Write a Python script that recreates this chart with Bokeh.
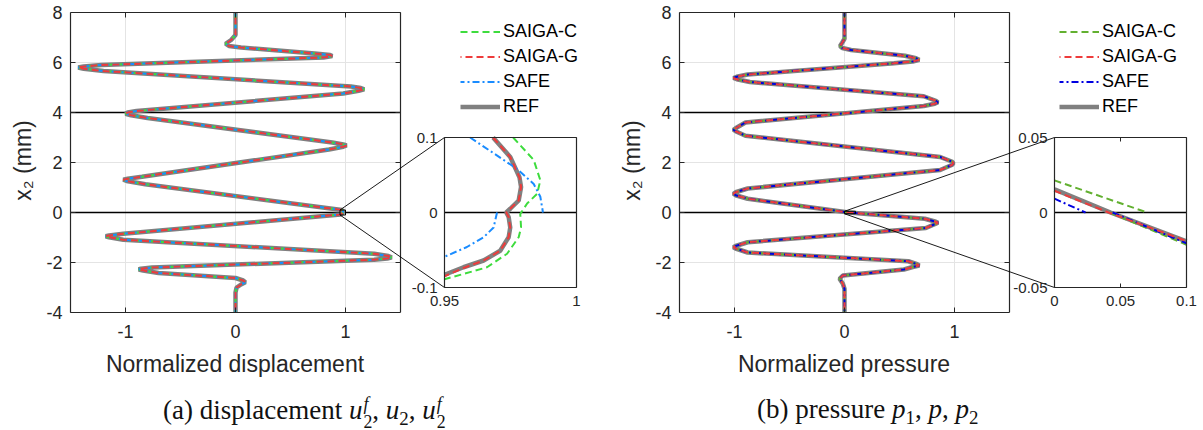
from bokeh.plotting import figure
from bokeh.models import Range1d, FixedTicker, Legend, LegendItem, Div
from bokeh.layouts import row, column
from bokeh.embed import file_html
from bokeh.resources import INLINE
from bokeh.core.properties import value

# ---------------- data ----------------
XLIM = (-1.5, 1.5)
YLIM = (-4.0, 8.0)
XTICKS = [-1, 0, 1]
YTICKS = [-4, -2, 0, 2, 4, 6, 8]
INTERFACES = [0, 4]
XLABELS = ["Normalized displacement", "Normalized pressure"]

# (a) normalized displacement vs depth x2 (mm); the four methods coincide at this scale
disp_x2 = [8.00, 7.10, 6.90, 6.75, 6.66, 6.60, 6.36, 6.30, 6.26, 6.20, 5.90, 5.84, 5.80, 5.75, 5.66,
           5.04, 4.98, 4.93, 4.87, 4.76, 4.06, 4.00, 3.95, 3.89, 3.78, 2.80, 2.72, 2.68, 2.63, 2.52,
           1.43, 1.35, 1.31, 1.26, 1.13, 0.10, 0.035, 0.00, -0.02, -0.08, -0.85, -0.92, -0.95, -0.99,
           -1.09, -1.65, -1.74, -1.79, -1.84, -1.89, -2.20, -2.25, -2.28, -2.32, -2.42, -2.62, -2.72,
           -2.79, -2.88, -3.00, -3.20, -4.00]
disp_u = [0.00, 0.00, -0.04, -0.09, -0.06, 0.05, 0.72, 0.86, 0.88, 0.80, -1.22, -1.38, -1.43, -1.38, -1.20,
          1.05, 1.14, 1.17, 1.12, 0.98, -0.90, -0.98, -1.00, -0.95, -0.80, 0.88, 0.98, 1.01, 0.98, 0.85,
          -0.85, -0.98, -1.02, -0.99, -0.82, 0.968, 0.979, 0.973, 0.975, 0.955, -1.02, -1.15, -1.18, -1.15,
          -1.02, 1.26, 1.39, 1.42, 1.38, 1.26, -0.76, -0.86, -0.88, -0.84, -0.70, 0.00, 0.07,
          0.09, 0.05, 0.01, 0.00, 0.00]

# (a) inset: u in [0.95, 1], x2 in [-0.1, 0.1]
ia_xlim = (0.95, 1.0)
ia_ylim = (-0.1, 0.1)
ia_xticks = [0.95, 1.0]
ia_yticks = [-0.1, 0.0, 0.1]
ia_ref_u = [0.9684, 0.9749, 0.9784, 0.9790, 0.9781, 0.9749, 0.9734, 0.9743, 0.9749, 0.9743, 0.9711, 0.9648, 0.9572, 0.9500]
ia_ref_x2 = [0.100, 0.074, 0.047, 0.034, 0.016, 0.005, 0.000, -0.006, -0.020, -0.033, -0.051, -0.064, -0.073, -0.083]
ia_g_u = [0.9684, 0.9749, 0.9784, 0.9790, 0.9781, 0.9749, 0.9734, 0.9743, 0.9749, 0.9743, 0.9711, 0.9648, 0.9572, 0.9500]
ia_g_x2 = [0.100, 0.074, 0.047, 0.034, 0.016, 0.005, 0.000, -0.006, -0.020, -0.033, -0.051, -0.064, -0.074, -0.085]
ia_c_u = [0.9760, 0.9838, 0.9863, 0.9851, 0.9813, 0.9787, 0.9790, 0.9781, 0.9737, 0.9661, 0.9572, 0.9500]
ia_c_x2 = [0.100, 0.070, 0.043, 0.025, 0.012, -0.002, -0.020, -0.033, -0.055, -0.073, -0.082, -0.089]
ia_safe_up_u = [0.9597, 0.9686, 0.9775, 0.9838, 0.9863, 0.9873]
ia_safe_up_x2 = [0.100, 0.079, 0.058, 0.038, 0.021, 0.000]
ia_safe_lo_u = [0.9699, 0.9686, 0.9648, 0.9585, 0.9500]
ia_safe_lo_x2 = [0.000, -0.020, -0.033, -0.046, -0.059]

# (b) normalized pressure vs depth x2 (mm)
pres_x2 = [8.00, 6.95, 6.80, 6.66, 6.58, 6.50, 6.27, 6.17, 6.11, 6.04, 5.97, 5.52, 5.43, 5.38, 5.33, 5.22,
           4.65, 4.47, 4.41, 4.35, 4.26, 3.60, 3.37, 3.31, 3.25, 3.07, 2.22, 2.03, 1.97, 1.91, 1.70,
           0.96, 0.81, 0.75, 0.69, 0.55, 0.00, -0.25, -0.37, -0.41, -0.45, -0.62, -1.19, -1.34,
           -1.39, -1.44, -1.60, -1.95, -2.07, -2.12, -2.18, -2.28, -2.52, -2.65, -2.85, -3.05, -4.00]
pres_p = [0.00, 0.00, -0.02, -0.04, -0.02, 0.06, 0.55, 0.65, 0.68, 0.62, 0.45, -0.88, -0.98, -1.01, -0.98, -0.86,
          0.72, 0.83, 0.85, 0.82, 0.72, -0.90, -0.99, -1.01, -0.99, -0.90, 0.87, 0.98, 0.99, 0.98, 0.87,
          -0.88, -0.99, -1.01, -0.99, -0.88, 0.04, 0.73, 0.83, 0.85, 0.83, 0.74, -0.88, -0.99,
          -1.01, -0.99, -0.88, 0.58, 0.66, 0.68, 0.62, 0.54, -0.015, -0.045, -0.015, 0.00, 0.00]

# (b) inset: p in [0, 0.1], x2 in [-0.05, 0.05]
ib_xlim = (0.0, 0.1)
ib_ylim = (-0.05, 0.05)
ib_xticks = [0.0, 0.05, 0.1]
ib_yticks = [-0.05, 0.0, 0.05]
ib_ref_p = [0.0, 0.0424, 0.1]
ib_ref_x2 = [0.0154, 0.0, -0.0192]
ib_g_p = [0.0, 0.041, 0.1]
ib_g_x2 = [0.0145, 0.0, -0.0190]
ib_c_up_p = [0.0, 0.0702]
ib_c_up_x2 = [0.0214, 0.0]
ib_c_lo_p = [0.042, 0.1]
ib_c_lo_x2 = [0.0, -0.0215]
ib_safe_up_p = [0.0, 0.0235]
ib_safe_up_x2 = [0.0092, 0.0]
ib_safe_lo_p = [0.044, 0.1]
ib_safe_lo_x2 = [0.0, -0.0205]

LABELS = ["SAIGA-C", "SAIGA-G", "SAFE", "REF"]

# ---------------- style / layout ----------------
FONT = "Liberation Sans"
TXT = "#262626"
GRAY = "#808080"
RED = "#ee3b3b"
FRAME_H = 304
PPX = 110.0   # px per unit on main x
PPY = 25.0    # px per mm on main y


def fmt(v):
    return f"{v:g}"


def build_panel(fw, lb, mx2, mv, ixlim, iylim, ixt, iyt, inset, col_c, col_s,
                box_px, legend_xy):
    xr = Range1d(XLIM[0], XLIM[0] + fw / PPX)
    yr = Range1d(YLIM[0], YLIM[0] + FRAME_H / PPY)
    p = figure(frame_width=fw, frame_height=FRAME_H, x_range=xr, y_range=yr,
               min_border_left=lb, min_border_right=0, min_border_top=8, min_border_bottom=36,
               output_backend="svg", toolbar_location=None, outline_line_color=None,
               background_fill_color="white", border_fill_color="white")
    p.grid.visible = False

    # inset coordinate system
    l, r, t, b = box_px
    ippx = (r - l) / (ixlim[1] - ixlim[0])
    ippy = (b - t) / (iylim[1] - iylim[0])
    ixr = Range1d(ixlim[0] - l / ippx, ixlim[1] + (fw - r) / ippx)
    iyr = Range1d(iylim[0] - (FRAME_H - b) / ippy, iylim[1] + t / ippy)
    p.extra_x_ranges = {"ins": ixr}
    p.extra_y_ranges = {"ins": iyr}
    ins = dict(x_range_name="ins", y_range_name="ins")

    def to_main(xi, yi):
        return (xr.start + (xi - ixr.start) * ippx / PPX,
                yr.start + (yi - iyr.start) * ippy / PPY)

    # main grid
    gx = [x for x in XTICKS]
    p.segment(x0=gx, x1=gx, y0=[YLIM[0]] * len(gx), y1=[YLIM[1]] * len(gx),
              line_color="#e4e4e4", line_width=1)
    gy = [y for y in YTICKS if y not in INTERFACES and YLIM[0] < y < YLIM[1]]
    p.segment(x0=[XLIM[0]] * len(gy), x1=[XLIM[1]] * len(gy), y0=gy, y1=gy,
              line_color="#e4e4e4", line_width=1)
    # layer interfaces
    p.segment(x0=[XLIM[0]] * len(INTERFACES), x1=[XLIM[1]] * len(INTERFACES),
              y0=INTERFACES, y1=INTERFACES, line_color="black", line_width=1.3)

    # main curves
    r_ref = p.line(mv, mx2, line_color=GRAY, line_width=4.5)
    r_c = p.line(mv, mx2, line_color=col_c, line_width=2, line_dash="7 4")
    r_s = p.line(mv, mx2, line_color=col_s, line_width=2, line_dash="7 3 2 3", line_dash_offset=3)
    r_g = p.line(mv, mx2, line_color=RED, line_width=2, line_dash="7 4", line_dash_offset=6)

    # main box top/right edges and inner ticks
    p.segment(x0=[XLIM[0], XLIM[1]], x1=[XLIM[1], XLIM[1]], y0=[YLIM[1], YLIM[0]], y1=[YLIM[1], YLIM[1]],
              line_color=TXT, line_width=1.2)
    p.segment(x0=[XLIM[1] - 5 / PPX] * len(YTICKS), x1=[XLIM[1]] * len(YTICKS), y0=YTICKS, y1=YTICKS,
              line_color=TXT, line_width=1)
    p.segment(x0=XTICKS, x1=XTICKS, y0=[YLIM[1] - 5 / PPY] * len(XTICKS), y1=[YLIM[1]] * len(XTICKS),
              line_color=TXT, line_width=1)

    # zoom rectangle and connectors
    p.quad(left=[ixlim[0]], right=[ixlim[1]], bottom=[iylim[0]], top=[iylim[1]],
           fill_color=None, line_color="black", line_width=1)
    c_top = to_main(ixlim[0], iylim[1])
    c_bot = to_main(ixlim[0], iylim[0])
    p.segment(x0=[ixlim[0], ixlim[0]], y0=[iylim[1], iylim[0]], x1=[c_top[0], c_bot[0]], y1=[c_top[1], c_bot[1]],
              line_color="black", line_width=0.9)

    # inset: background, interface, curves
    p.quad(left=[ixlim[0]], right=[ixlim[1]], bottom=[iylim[0]], top=[iylim[1]],
           fill_color="white", line_color=None, **ins)
    p.segment(x0=[ixlim[0]], x1=[ixlim[1]], y0=[0], y1=[0], line_color="black", line_width=1.3, **ins)
    for (xs, ys, kind) in inset:
        if kind == "ref":
            p.line(xs, ys, line_color=GRAY, line_width=4.5, **ins)
    for (xs, ys, kind) in inset:
        if kind == "c":
            p.line(xs, ys, line_color=col_c, line_width=2, line_dash="7 4", **ins)
        elif kind == "s":
            p.line(xs, ys, line_color=col_s, line_width=2, line_dash="7 3 2 3", **ins)
    for (xs, ys, kind) in inset:
        if kind == "g":
            p.line(xs, ys, line_color=RED, line_width=2, line_dash="7 4", **ins)
    # inset box and inner ticks
    p.quad(left=[ixlim[0]], right=[ixlim[1]], bottom=[iylim[0]], top=[iylim[1]],
           fill_color=None, line_color=TXT, line_width=1.2, **ins)
    tx = [x for x in ixt if ixlim[0] < x < ixlim[1]]
    if tx:
        p.segment(x0=tx + tx, x1=tx + tx, y0=[iylim[0]] * len(tx) + [iylim[1]] * len(tx),
                  y1=[iylim[0] + 4 / ippy] * len(tx) + [iylim[1] - 4 / ippy] * len(tx),
                  line_color=TXT, line_width=1, **ins)
    # inset tick labels
    p.text(x=[ixlim[0]] * len(iyt), y=iyt, text=[fmt(v) for v in iyt], text_align="right",
           text_baseline="middle", x_offset=-7, text_font=value(FONT), text_font_size=value("15px"),
           text_color=TXT, **ins)
    p.text(x=ixt, y=[iylim[0]] * len(ixt), text=[fmt(v) for v in ixt], text_align="center",
           text_baseline="top", y_offset=8, text_font=value(FONT), text_font_size=value("15px"),
           text_color=TXT, **ins)

    # axes
    for ax, ticks, bounds in ((p.xaxis[0], XTICKS, XLIM), (p.yaxis[0], YTICKS, YLIM)):
        ax.ticker = FixedTicker(ticks=ticks)
        ax.major_label_overrides = {t: fmt(t) for t in ticks}
        ax.bounds = bounds
        ax.major_tick_in = 5
        ax.major_tick_out = 0
        ax.minor_tick_line_color = None
        ax.axis_line_color = TXT
        ax.axis_line_width = 1.2
        ax.major_tick_line_color = TXT
        ax.major_label_text_font = FONT
        ax.major_label_text_font_size = "18px"
        ax.major_label_text_color = TXT
        ax.axis_label_text_font = FONT
        ax.axis_label_text_font_size = "23px"
        ax.axis_label_text_font_style = "normal"
        ax.axis_label_text_color = TXT
    p.xaxis.major_label_standoff = 12
    p.yaxis.axis_label = "x\u2082 (mm)"
    p.yaxis.major_label_standoff = 8
    p.yaxis.axis_label_standoff = 7

    legend = Legend(items=[LegendItem(label=LABELS[0], renderers=[r_c]),
                           LegendItem(label=LABELS[1], renderers=[r_g]),
                           LegendItem(label=LABELS[2], renderers=[r_s]),
                           LegendItem(label=LABELS[3], renderers=[r_ref])],
                    location=legend_xy, glyph_width=40, glyph_height=25, label_height=25,
                    spacing=0, padding=0, margin=0, label_standoff=3,
                    border_line_color=None, background_fill_alpha=0,
                    label_text_font=FONT, label_text_font_size="18px", label_text_color="black")
    p.add_layout(legend)
    return p


inset_a = [(ia_ref_u, ia_ref_x2, "ref"), (ia_c_u, ia_c_x2, "c"),
           (ia_safe_up_u, ia_safe_up_x2, "s"), (ia_safe_lo_u, ia_safe_lo_x2, "s"),
           (ia_g_u, ia_g_x2, "g")]
inset_b = [(ib_ref_p, ib_ref_x2, "ref"), (ib_c_up_p, ib_c_up_x2, "c"), (ib_c_lo_p, ib_c_lo_x2, "c"),
           (ib_safe_up_p, ib_safe_up_x2, "s"), (ib_safe_lo_p, ib_safe_lo_x2, "s"),
           (ib_g_p, ib_g_x2, "g")]

LB_A, LB_B = 70, 79
pa = build_panel(530, LB_A, disp_x2, disp_u, ia_xlim, ia_ylim, ia_xticks, ia_yticks,
                 inset_a, "#3ddc3d", "#1a8cff", (374, 506, 129, 279), (390, 193))
pb = build_panel(521, LB_B, pres_x2, pres_p, ib_xlim, ib_ylim, ib_xticks, ib_yticks,
                 inset_b, "#62b030", "#0000e0", (375, 507, 129, 279), (380, 193))

# x-axis titles, centred under each main box
BOXW = int((XLIM[1] - XLIM[0]) * PPX)
XT = ("<div style=\"font-family:'Liberation Sans',sans-serif;font-size:23px;line-height:26px;"
      "padding-top:3px;margin-left:{ml}px;width:{w}px;text-align:center;white-space:nowrap;"
      "color:#262626\">{t}</div>")
xa = Div(text=XT.format(ml=LB_A, w=BOXW, t=XLABELS[0]), width=600, height=32, margin=0)
xb = Div(text=XT.format(ml=LB_B, w=BOXW, t=XLABELS[1]), width=600, height=32, margin=0)

# captions
CAP = ("<div style=\"font-family:'Liberation Serif',serif;font-size:27px;line-height:27px;"
       "padding-top:16px;padding-left:{pad}px;white-space:nowrap;color:#111\">{body}</div>")
STACK = ("<span style=\"display:inline-block;vertical-align:-0.5em;line-height:1;font-size:66%;"
         "text-align:left;margin-left:1px\"><i>f</i><br>2</span>")
SUB = "<span style=\"font-size:70%;vertical-align:-0.3em\">{}</span>"
cap_a = "(a) displacement <i>u</i>" + STACK + ", <i>u</i>" + SUB.format("2") + ", <i>u</i>" + STACK
cap_b = "(b) pressure <i>p</i>" + SUB.format("1") + ", <i>p</i>, <i>p</i>" + SUB.format("2")
da = Div(text=CAP.format(pad=163, body=cap_a), width=600, height=48, margin=0)
db = Div(text=CAP.format(pad=157, body=cap_b), width=600, height=48, margin=0)

layout = column(row(pa, pb), row(xa, xb), row(da, db))
open("out.html", "w").write(file_html(layout, INLINE))
